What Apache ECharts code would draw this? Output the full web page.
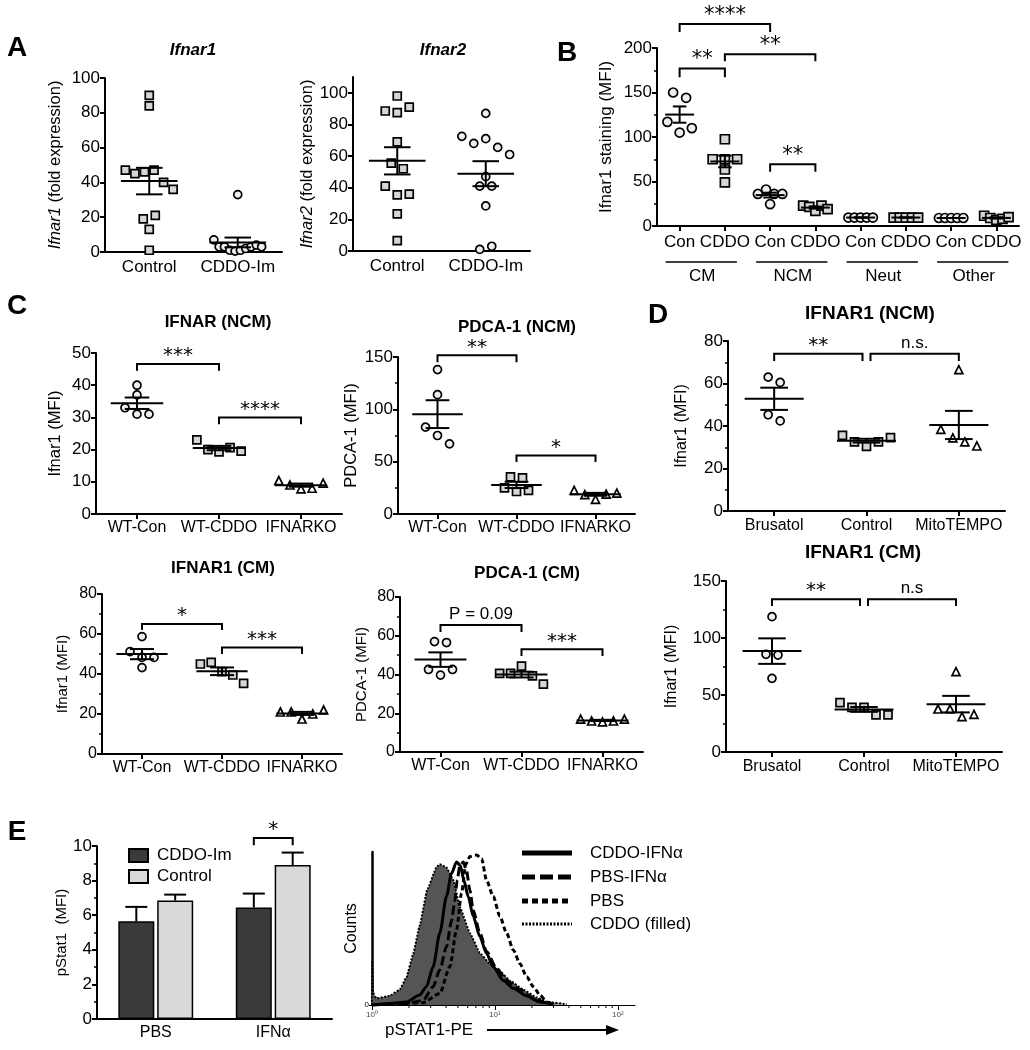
<!DOCTYPE html>
<html><head><meta charset="utf-8">
<script src="https://cdn.jsdelivr.net/npm/echarts@6/dist/echarts.min.js"></script>
<style>html,body{margin:0;padding:0;background:#fff}#c{width:1030px;height:1050px}</style>
</head><body><div id="c"></div>
<script>
// ================= DATA =================
// Panel A
const aCats = ['Control', 'CDDO-Im'];
const ifnar1Control = [90, 84, 47, 45, 46, 47, 40, 36, 19, 21, 13, 1];
const ifnar1CddoIm = [33, 7, 3, 3, 1, 0.5, 1, 2, 3, 4, 3];
const ifnar2Control = [98, 88.5, 87.5, 91, 69, 55.5, 52, 41, 35.5, 36, 23.5, 6.5];
const ifnar2CddoIm = [87, 72.5, 68, 71, 65.5, 61, 47, 41, 41, 28.5, 1, 3];
const aTicks = [0, 20, 40, 60, 80, 100];
// Panel B
const bCats = ['Con', 'CDDO', 'Con', 'CDDO', 'Con', 'CDDO', 'Con', 'CDDO'];
const bCellTypes = ['CM', 'NCM', 'Neut', 'Other'];
const bCmCon = [150, 144, 117, 105, 110];
const bCmCddo = [97.5, 75, 75, 75, 63.5, 49];
const bNcmCon = [36, 41, 36, 24.5, 36];
const bNcmCddo = [23, 21.5, 17, 23, 19];
const bNeutCon = [9.5, 9.5, 9.5, 9.5, 9.5];
const bNeutCddo = [9.5, 9.5, 9.5, 9.5, 9.5];
const bOtherCon = [9, 9, 9, 9, 9];
const bOtherCddo = [11.5, 9, 7, 8, 10];
// [from, to, top, legEnd, label]
const bBrackets = [[0, 2, 227, 218, '****'], [0, 1, 177, 167, '**'], [1, 3, 193, 185, '**'], [2, 3, 69.5, 61, '**']];
// Panel C
const cCats = ['WT-Con', 'WT-CDDO', 'IFNARKO'];
const ifnarNcmWtCon = [40, 37, 33, 31, 31];
const ifnarNcmWtCddo = [23, 20, 19.3, 20.6, 19.5];
const ifnarNcmKo = [10.4, 9, 7.8, 8, 9.6];
const pdcaNcmWtCon = [138, 114, 83, 75, 67];
const pdcaNcmWtCddo = [35.5, 34.5, 25, 21.5, 22.5];
const pdcaNcmKo = [22.5, 18.5, 14, 19, 20];
const ifnarCmWtCon = [58.7, 51.2, 48.3, 48.3, 43.2];
const ifnarCmWtCddo = [45, 45.8, 41.2, 39.5, 35.3];
const ifnarCmKo = [21, 21, 17.5, 20, 22];
const pdcaCmWtCon = [57, 56.5, 42.6, 39.7, 42.6];
const pdcaCmWtCddo = [40.6, 40.6, 44.3, 39.3, 35];
const pdcaCmKo = [17, 16, 15.5, 16, 17];
const c1Brackets = [[0, 1, 46.6, 44.5, '***'], [1, 2, 30, 27.9, '****']];
const c2Brackets = [[0, 1, 151.6, 145, '**'], [1, 2, 56, 49.7, '*']];
const c3Brackets = [[0, 1, 65, 62, '*'], [1, 2, 53.3, 50, '***']];
const c4Brackets = [[0, 1, 65.5, 62, 'P = 0.09'], [1, 2, 53, 49.5, '***']];
// Panel D
const dCats = ['Brusatol', 'Control', 'MitoTEMPO'];
const ifnarNcmBrusatol = [63, 60.5, 45.3, 42.4];
const ifnarNcmControl = [35.6, 32.5, 30.4, 32.5, 34.5];
const ifnarNcmMito = [66.5, 38.4, 34.4, 32.5, 30.6];
const ifnarCmBrusatol = [118.7, 85.7, 85, 64.6];
const ifnarCmControl = [43.3, 39.2, 39.2, 32.5, 32.5];
const ifnarCmMito = [70.5, 37.7, 37.7, 31, 33];
const d1Brackets = [[0, 1, 74, 70.6, '**'], [1, 2, 74, 70.6, 'n.s.']];
const d2Brackets = [[0, 1, 134, 128, '**'], [1, 2, 134, 128, 'n.s']];
// Panel E (bars)
const eCats = ['PBS', 'IFNα'];
const pstatCddoIm = [5.65, 6.45];
const pstatCddoImErr = [0.83, 0.8];
const pstatControl = [6.85, 8.9];
const pstatControlErr = [0.34, 0.72];
// [from, to, top, legEnd, label, fromBar, toBar]
const eBrackets = [[1, 1, 10.46, 10.04, '*', -1, 1]];
// Panel E (histograms): pSTAT1-PE intensity, normalized counts
const cddoFilledX = [1, 1.006, 1.019, 1.085, 1.393, 1.681, 1.905, 2.159, 2.447, 2.808, 3.346, 3.562, 4.036, 4.575, 5.185, 6.256, 7.547, 9.104, 10.98, 13.26, 17.02, 21.87, 26.38, 38.39];
const cddoFilledY = [0, 29, 8, 4.3, 6, 10, 18, 33, 52, 75, 90, 92, 90, 82, 64, 47, 34, 27, 22, 16, 10, 5, 2, 0.5];
const cddoIfnX = [1.02, 1.393, 1.905, 2.447, 2.773, 3.143, 3.562, 4.036, 4.434, 4.87, 5.25, 5.59, 6.06, 6.66, 7.547, 8.55, 9.69, 11.69, 14.11, 18.12, 23.27, 29.89];
const cddoIfnY = [0, 1, 2, 6.5, 12, 25, 47, 71, 86, 93.5, 91, 81.5, 71, 58, 44.6, 33.7, 25, 16, 11, 6, 2, 0.6];
const pbsIfnX = [1.02, 1.905, 2.605, 3.143, 3.562, 4.036, 4.434, 4.72, 4.93, 5.185, 5.52, 5.87, 6.256, 6.66, 7.547, 8.55, 10.32, 12.45, 15.99, 20.54, 26.38];
const pbsIfnY = [0, 1, 3, 12, 23, 38, 55, 68, 81.5, 91, 93.5, 88, 75, 62, 47, 35, 24, 16, 10, 4, 1];
const pbsX = [1.02, 2.605, 3.562, 4.297, 4.87, 5.35, 5.80, 6.256, 7.09, 7.79, 8.55, 9.69, 10.98, 12.45, 14.11, 15.99, 18.12, 20.54, 23.27, 26.38, 29.89];
const pbsY = [0, 1.5, 7.6, 25, 49, 73, 92, 97, 98, 95.6, 81.5, 71, 58, 47, 36, 27, 18.5, 12, 6.5, 2, 0.6];
const histLabels = ['CDDO-IFNα', 'PBS-IFNα', 'PBS', 'CDDO (filled)'];
const histTicks = [1, 10, 100];

// ================= LAYOUT / STYLE =================
const FONT = '"Liberation Sans", Arial, Helvetica, sans-serif';
const L = [
  {left: 105, top: 78, width: 177, height: 174},   // 0 A1
  {left: 353, top: 77, width: 177, height: 174},   // 1 A2
  {left: 657, top: 48, width: 362, height: 178},   // 2 B
  {left: 96, top: 353, width: 246, height: 161},   // 3 C1
  {left: 398, top: 357, width: 237, height: 157},  // 4 C2
  {left: 102, top: 594, width: 240, height: 160},  // 5 C3
  {left: 400, top: 597, width: 243, height: 155},  // 6 C4
  {left: 728, top: 341, width: 277, height: 170},  // 7 D1
  {left: 726, top: 581, width: 276, height: 171},  // 8 D2
  {left: 97, top: 846, width: 235, height: 173},   // 9 E1
  {left: 372, top: 852, width: 263, height: 153}   // 10 E2
];
const FILL = {circle: '#eeeeee', rect: '#d6d6d6', triangle: '#ffffff'};
const BAR_W = 36, BAR_GAP = 0.08;

function mean(a) { return a.reduce((s, v) => s + v, 0) / a.length; }
function sem(a) { const m = mean(a); const v = a.reduce((s, x) => s + (x - m) * (x - m), 0) / (a.length - 1); return Math.sqrt(v / a.length); }

// beeswarm-like horizontal spreading of points with close values
function swarm(vals, ppu, size, maxHalf) {
  const idx = vals.map((v, i) => i).sort((a, b) => vals[b] - vals[a]);
  const rows = []; let cur = [];
  idx.forEach(i => {
    if (cur.length && (vals[cur[cur.length - 1]] - vals[i]) * ppu >= size + 1) { rows.push(cur); cur = []; }
    cur.push(i);
  });
  if (cur.length) rows.push(cur);
  const off = new Array(vals.length).fill(0);
  rows.forEach(r => {
    const n = r.length; let s = size + 4;
    if (n > 1 && (n - 1) * s / 2 > maxHalf) s = 2 * maxHalf / (n - 1);
    r.slice().sort((a, b) => a - b).forEach((i, k) => { off[i] = (k - (n - 1) / 2) * s; });
  });
  return off;
}

function yAxis(g, o) {
  return {
    gridIndex: g, type: 'value', min: o.min, max: o.max, interval: o.interval,
    name: o.name, nameLocation: 'middle', nameGap: o.nameGap, nameRotate: 90,
    nameTextStyle: {fontFamily: FONT, fontSize: o.nameSize || 16, color: '#000', rich: o.rich},
    axisLine: {show: true, lineStyle: {color: '#000', width: 2}},
    axisTick: {show: true, length: 5, lineStyle: {color: '#000', width: 2}, customValues: o.ticks},
    minorTick: {show: !!o.minor, splitNumber: o.minor || 2, length: 3, lineStyle: {color: '#000', width: 1.5}},
    axisLabel: {fontFamily: FONT, fontSize: o.labelSize || 17, color: '#000', margin: 5, customValues: o.ticks},
    splitLine: {show: false}
  };
}
function xAxis(g, cats, o) {
  return {
    gridIndex: g, type: 'category', data: cats,
    axisLine: {lineStyle: {color: '#000', width: 2}},
    axisTick: {show: o.ticks !== false, alignWithLabel: true, length: 5, lineStyle: {color: '#000', width: 2}},
    axisLabel: {interval: 0, fontFamily: FONT, fontSize: o.labelSize || 16, color: '#000', margin: o.margin || 7},
    splitLine: {show: false}
  };
}
function dotSeries(g, groups, shapes, ymin, ymax, size) {
  const ppu = L[g].height / (ymax - ymin);
  const band = L[g].width / groups.length;
  const data = [];
  groups.forEach((vals, i) => {
    const off = swarm(vals, ppu, size, band * 0.27);
    vals.forEach((v, k) => data.push({value: [i, v], symbol: shapes[i], symbolOffset: [off[k], 0], itemStyle: {color: FILL[shapes[i]]}}));
  });
  return {type: 'scatter', xAxisIndex: g, yAxisIndex: g, symbolSize: size, data, z: 3, silent: true,
    itemStyle: {borderColor: '#000', borderWidth: 1.7, opacity: 1}};
}
function meanSemSeries(g, groups) {
  const data = groups.map((vals, i) => { const m = mean(vals), s = sem(vals); return [i, m, m - s, m + s]; });
  return {
    type: 'custom', xAxisIndex: g, yAxisIndex: g, z: 4, silent: true, clip: false,
    encode: {x: 0, y: [1, 2, 3]}, data,
    renderItem: (params, api) => {
      const x = api.value(0);
      const c = api.coord([x, api.value(1)]);
      const lo = api.coord([x, api.value(2)])[1], hi = api.coord([x, api.value(3)])[1];
      const band = api.size([1, 0])[0];
      const hw = band * 0.32, cw = band * 0.15;
      const st = {stroke: '#000', lineWidth: 2};
      return {type: 'group', children: [
        {type: 'line', shape: {x1: c[0] - hw, y1: c[1], x2: c[0] + hw, y2: c[1]}, style: st},
        {type: 'line', shape: {x1: c[0], y1: lo, x2: c[0], y2: hi}, style: st},
        {type: 'line', shape: {x1: c[0] - cw, y1: lo, x2: c[0] + cw, y2: lo}, style: st},
        {type: 'line', shape: {x1: c[0] - cw, y1: hi, x2: c[0] + cw, y2: hi}, style: st}
      ]};
    }
  };
}
function bracketSeries(g, list, o) {
  o = o || {};
  const data = list.map(b => [b[0], b[2], b[1], b[3]]);
  return {
    type: 'custom', xAxisIndex: g, yAxisIndex: g, z: 5, silent: true, clip: false,
    encode: {x: [0, 2], y: [1, 3]}, data,
    renderItem: (params, api) => {
      const b = list[params.dataIndex];
      const sh = o.shiftPx || 0;
      let x1 = api.coord([api.value(0), api.value(1)])[0] + (b[5] || 0) * sh;
      let x2 = api.coord([api.value(2), api.value(1)])[0] + (b[6] || 0) * sh;
      const yTop = api.coord([api.value(0), api.value(1)])[1];
      const yLeg = api.coord([api.value(0), api.value(3)])[1];
      list.forEach((q, j) => {
        if (j === params.dataIndex || Math.abs(q[2] - b[2]) > 1e-6) return;
        if (q[0] === b[1]) x2 -= 4;
        if (q[1] === b[0]) x1 += 4;
      });
      const star = /^\*+$/.test(b[4]);
      const font = star ? (o.starSize || 20) + 'px "DejaVu Sans"' : (o.textSize || 17) + 'px ' + FONT;
      return {type: 'group', children: [
        {type: 'polyline', shape: {points: [[x1, yLeg], [x1, yTop], [x2, yTop], [x2, yLeg]]}, style: {stroke: '#000', lineWidth: 2, fill: 'none'}},
        {type: 'text', x: (x1 + x2) / 2, y: yTop + (star ? 2 : -2),
          style: {text: b[4], fill: '#000', font: font, align: 'center', verticalAlign: 'bottom', textAlign: 'center', textVerticalAlign: 'bottom'}}
      ]};
    }
  };
}

// ================= BUILD OPTION =================
const grids = L.map(r => ({left: r.left, top: r.top, width: r.width, height: r.height, containLabel: false}));
const xAxes = [], yAxes = [], series = [];

// A1
xAxes.push(xAxis(0, aCats, {ticks: false, labelSize: 17}));
yAxes.push(yAxis(0, {min: 0, max: 100, interval: 20, name: '{i|Ifnar1} (fold expression)', nameGap: 41, nameSize: 16.5,
  rich: {i: {fontStyle: 'italic', fontFamily: FONT, fontSize: 16.5, color: '#000'}}}));
series.push(dotSeries(0, [ifnar1Control, ifnar1CddoIm], ['rect', 'circle'], 0, 100, 8));
series.push(meanSemSeries(0, [ifnar1Control, ifnar1CddoIm]));
// A2
xAxes.push(xAxis(1, aCats, {ticks: false, labelSize: 17}));
yAxes.push(yAxis(1, {min: 0, max: 110, interval: 20, ticks: aTicks, name: '{i|Ifnar2} (fold expression)', nameGap: 37, nameSize: 16.5,
  rich: {i: {fontStyle: 'italic', fontFamily: FONT, fontSize: 16.5, color: '#000'}}}));
series.push(dotSeries(1, [ifnar2Control, ifnar2CddoIm], ['rect', 'circle'], 0, 110, 8));
series.push(meanSemSeries(1, [ifnar2Control, ifnar2CddoIm]));
// B
const bGroups = [bCmCon, bCmCddo, bNcmCon, bNcmCddo, bNeutCon, bNeutCddo, bOtherCon, bOtherCddo];
const bShapes = bGroups.map((v, i) => i % 2 === 0 ? 'circle' : 'rect');
xAxes.push(xAxis(2, bCats, {labelSize: 17, margin: 8}));
yAxes.push(yAxis(2, {min: 0, max: 200, interval: 50, minor: 2, name: 'Ifnar1 staining (MFI)', nameGap: 42, nameSize: 17}));
series.push(dotSeries(2, bGroups, bShapes, 0, 200, 9));
series.push(meanSemSeries(2, bGroups));
series.push(bracketSeries(2, bBrackets, {starSize: 21}));
// C1
xAxes.push(xAxis(3, cCats, {margin: 6}));
yAxes.push(yAxis(3, {min: 0, max: 50, interval: 10, name: 'Ifnar1 (MFI)', nameGap: 32, nameSize: 16.5}));
series.push(dotSeries(3, [ifnarNcmWtCon, ifnarNcmWtCddo, ifnarNcmKo], ['circle', 'rect', 'triangle'], 0, 50, 8));
series.push(meanSemSeries(3, [ifnarNcmWtCon, ifnarNcmWtCddo, ifnarNcmKo]));
series.push(bracketSeries(3, c1Brackets));
// C2
xAxes.push(xAxis(4, cCats, {margin: 6}));
yAxes.push(yAxis(4, {min: 0, max: 150, interval: 50, minor: 2, name: 'PDCA-1 (MFI)', nameGap: 38, nameSize: 16.5}));
series.push(dotSeries(4, [pdcaNcmWtCon, pdcaNcmWtCddo, pdcaNcmKo], ['circle', 'rect', 'triangle'], 0, 150, 8));
series.push(meanSemSeries(4, [pdcaNcmWtCon, pdcaNcmWtCddo, pdcaNcmKo]));
series.push(bracketSeries(4, c2Brackets));
// C3
xAxes.push(xAxis(5, cCats, {margin: 6}));
yAxes.push(yAxis(5, {min: 0, max: 80, interval: 20, minor: 2, name: 'Ifnar1 (MFI)', nameGap: 32, nameSize: 15, labelSize: 16}));
series.push(dotSeries(5, [ifnarCmWtCon, ifnarCmWtCddo, ifnarCmKo], ['circle', 'rect', 'triangle'], 0, 80, 8));
series.push(meanSemSeries(5, [ifnarCmWtCon, ifnarCmWtCddo, ifnarCmKo]));
series.push(bracketSeries(5, c3Brackets));
// C4
xAxes.push(xAxis(6, cCats, {margin: 6}));
yAxes.push(yAxis(6, {min: 0, max: 80, interval: 20, minor: 2, name: 'PDCA-1 (MFI)', nameGap: 31, nameSize: 15, labelSize: 16}));
series.push(dotSeries(6, [pdcaCmWtCon, pdcaCmWtCddo, pdcaCmKo], ['circle', 'rect', 'triangle'], 0, 80, 8));
series.push(meanSemSeries(6, [pdcaCmWtCon, pdcaCmWtCddo, pdcaCmKo]));
series.push(bracketSeries(6, c4Brackets));
// D1
xAxes.push(xAxis(7, dCats, {margin: 7}));
yAxes.push(yAxis(7, {min: 0, max: 80, interval: 20, minor: 2, name: 'Ifnar1 (MFI)', nameGap: 38, nameSize: 16}));
series.push(dotSeries(7, [ifnarNcmBrusatol, ifnarNcmControl, ifnarNcmMito], ['circle', 'rect', 'triangle'], 0, 80, 8));
series.push(meanSemSeries(7, [ifnarNcmBrusatol, ifnarNcmControl, ifnarNcmMito]));
series.push(bracketSeries(7, d1Brackets, {textSize: 17}));
// D2
xAxes.push(xAxis(8, dCats, {margin: 7}));
yAxes.push(yAxis(8, {min: 0, max: 150, interval: 50, minor: 2, name: 'Ifnar1 (MFI)', nameGap: 46, nameSize: 16}));
series.push(dotSeries(8, [ifnarCmBrusatol, ifnarCmControl, ifnarCmMito], ['circle', 'rect', 'triangle'], 0, 150, 8));
series.push(meanSemSeries(8, [ifnarCmBrusatol, ifnarCmControl, ifnarCmMito]));
series.push(bracketSeries(8, d2Brackets, {textSize: 17}));
// E1 bars
xAxes.push(xAxis(9, eCats, {ticks: false, margin: 6, labelSize: 16}));
yAxes.push(yAxis(9, {min: 0, max: 10, interval: 2, minor: 2, name: 'pStat1  (MFI)', nameGap: 28, nameSize: 15}));
series.push({type: 'bar', name: 'CDDO-Im', xAxisIndex: 9, yAxisIndex: 9, data: pstatCddoIm, barWidth: BAR_W, barGap: (BAR_GAP * 100) + '%',
  itemStyle: {color: '#3a3a3a', borderColor: '#000', borderWidth: 1.5}, silent: true});
series.push({type: 'bar', name: 'Control', xAxisIndex: 9, yAxisIndex: 9, data: pstatControl, barWidth: BAR_W, barGap: (BAR_GAP * 100) + '%',
  itemStyle: {color: '#d9d9d9', borderColor: '#000', borderWidth: 1.5}, silent: true});
const halfStep = BAR_W * (1 + BAR_GAP) / 2;
const errData = [];
pstatCddoIm.forEach((v, i) => errData.push([i, v, v + pstatCddoImErr[i], -1]));
pstatControl.forEach((v, i) => errData.push([i, v, v + pstatControlErr[i], 1]));
series.push({
  type: 'custom', xAxisIndex: 9, yAxisIndex: 9, z: 4, silent: true, clip: false,
  encode: {x: 0, y: [1, 2]}, data: errData,
  renderItem: (params, api) => {
    const x = api.coord([api.value(0), api.value(1)])[0] + api.value(3) * halfStep;
    const y0 = api.coord([api.value(0), api.value(1)])[1];
    const y1 = api.coord([api.value(0), api.value(2)])[1];
    const st = {stroke: '#000', lineWidth: 2};
    return {type: 'group', children: [
      {type: 'line', shape: {x1: x, y1: y0, x2: x, y2: y1}, style: st},
      {type: 'line', shape: {x1: x - 11, y1: y1, x2: x + 11, y2: y1}, style: st}
    ]};
  }
});
series.push(bracketSeries(9, eBrackets, {shiftPx: halfStep, starSize: 20}));
// E2 histograms
xAxes.push({
  gridIndex: 10, type: 'log', logBase: 10, min: 1, max: 138,
  axisLine: {lineStyle: {color: '#000', width: 1}},
  axisTick: {show: true, length: 5, lineStyle: {color: '#000', width: 1}, customValues: histTicks},
  axisLabel: {fontFamily: FONT, fontSize: 8, color: '#444', margin: 6, customValues: histTicks,
    formatter: v => '10' + '⁰¹²³'[Math.round(Math.log10(v))]},
  splitLine: {show: false}, minorTick: {show: false}
});
yAxes.push({
  gridIndex: 10, type: 'value', min: 0, max: 100,
  name: 'Counts', nameLocation: 'middle', nameGap: 12, nameRotate: 90,
  nameTextStyle: {fontFamily: FONT, fontSize: 16, color: '#000'},
  axisLine: {show: true, lineStyle: {color: '#000', width: 2.5}},
  axisTick: {show: true, length: 3, lineStyle: {color: '#000', width: 1}, customValues: [0]},
  axisLabel: {fontFamily: FONT, fontSize: 8, color: '#000', margin: 3, customValues: [0]},
  splitLine: {show: false}
});
const pairs = (xs, ys) => xs.map((x, i) => [x, ys[i]]);
const histBase = {type: 'line', xAxisIndex: 10, yAxisIndex: 10, symbol: 'none', silent: true, smooth: 0.25, smoothMonotone: 'x'};
series.push(Object.assign({}, histBase, {data: pairs(cddoFilledX, cddoFilledY), smooth: 0.1,
  lineStyle: {color: '#000', width: 2, type: [2, 1.5]}, areaStyle: {color: '#555555', opacity: 1}}));
series.push(Object.assign({}, histBase, {data: pairs(cddoIfnX, cddoIfnY), lineStyle: {color: '#000', width: 3}}));
series.push(Object.assign({}, histBase, {data: pairs(pbsIfnX, pbsIfnY), lineStyle: {color: '#000', width: 3, type: [9, 4]}}));
series.push(Object.assign({}, histBase, {data: pairs(pbsX, pbsY), lineStyle: {color: '#000', width: 3, type: [5, 3]}}));

const option = {
  animation: false,
  backgroundColor: '#ffffff',
  textStyle: {fontFamily: FONT},
  grid: grids, xAxis: xAxes, yAxis: yAxes, series: series,
  legend: {
    data: ['CDDO-Im', 'Control'], orient: 'vertical', left: 128, top: 847,
    itemWidth: 19, itemHeight: 13, itemGap: 4, icon: 'rect', selectedMode: false, padding: 0,
    textStyle: {fontFamily: FONT, fontSize: 17, color: '#000', padding: [0, 0, 0, 4]}
  }
};

const chart = echarts.init(document.getElementById('c'), null, {renderer: 'canvas'});
chart.setOption(option);

// ================= DECORATIONS =================
const gfx = [];
function txt(t, x, y, font, align, extra) {
  gfx.push(Object.assign({type: 'text', x: x, y: y, silent: true,
    style: {text: t, font: font, fill: '#000', align: align || 'center', verticalAlign: 'middle', textAlign: align || 'center', textVerticalAlign: 'middle'}}, extra || {}));
}
const LET = 'bold 28px ' + FONT;
txt('A', 17, 48, LET); txt('B', 567, 53, LET); txt('C', 17, 306, LET); txt('D', 658, 315, LET); txt('E', 17, 832, LET);
txt('Ifnar1', 193, 50, 'italic bold 17px ' + FONT);
txt('Ifnar2', 443, 50, 'italic bold 17px ' + FONT);
txt('IFNAR (NCM)', 218, 322, 'bold 17px ' + FONT);
txt('PDCA-1 (NCM)', 517, 327, 'bold 17px ' + FONT);
txt('IFNAR1 (CM)', 223, 568, 'bold 17px ' + FONT);
txt('PDCA-1 (CM)', 527, 573, 'bold 17px ' + FONT);
txt('IFNAR1 (NCM)', 870, 314, 'bold 19px ' + FONT);
txt('IFNAR1 (CM)', 863, 553, 'bold 19px ' + FONT);

// B cell-type group lines and labels
bCellTypes.forEach((name, k) => {
  const xa = chart.convertToPixel({xAxisIndex: 2}, 2 * k);
  const xb = chart.convertToPixel({xAxisIndex: 2}, 2 * k + 1);
  gfx.push({type: 'line', silent: true, shape: {x1: xa - 14, y1: 262, x2: xb + 12, y2: 262}, style: {stroke: '#000', lineWidth: 1.5}});
  txt(name, (xa + xb) / 2, 276, '17px ' + FONT);
});

// E2 log minor ticks
const yBase = L[10].top + L[10].height;
for (let dec = 1; dec <= 10; dec *= 10) {
  for (let m = 2; m <= 9; m++) {
    const v = m * dec;
    if (v > 138) continue;
    const px = chart.convertToPixel({xAxisIndex: 10}, v);
    gfx.push({type: 'line', silent: true, shape: {x1: px, y1: yBase, x2: px, y2: yBase + 3}, style: {stroke: '#000', lineWidth: 1}});
  }
}
// E2 legend
const legY = [853, 877, 901, 924];
const legStyles = [{w: 5, d: null}, {w: 5, d: [13, 5]}, {w: 5, d: [6, 4]}, {w: 3, d: [2, 1.5]}];
histLabels.forEach((name, i) => {
  gfx.push({type: 'line', silent: true, shape: {x1: 522, y1: legY[i], x2: 572, y2: legY[i]},
    style: {stroke: '#000', lineWidth: legStyles[i].w, lineDash: legStyles[i].d}});
  txt(name, 590, legY[i], '17px ' + FONT, 'left');
});
// E2 x label with arrow
txt('pSTAT1-PE', 385, 1030, '17px ' + FONT, 'left');
gfx.push({type: 'line', silent: true, shape: {x1: 487, y1: 1030, x2: 608, y2: 1030}, style: {stroke: '#000', lineWidth: 2}});
gfx.push({type: 'polygon', silent: true, shape: {points: [[606, 1025], [619, 1030], [606, 1035]]}, style: {fill: '#000'}});

chart.setOption({graphic: gfx});
</script>
</body></html>
